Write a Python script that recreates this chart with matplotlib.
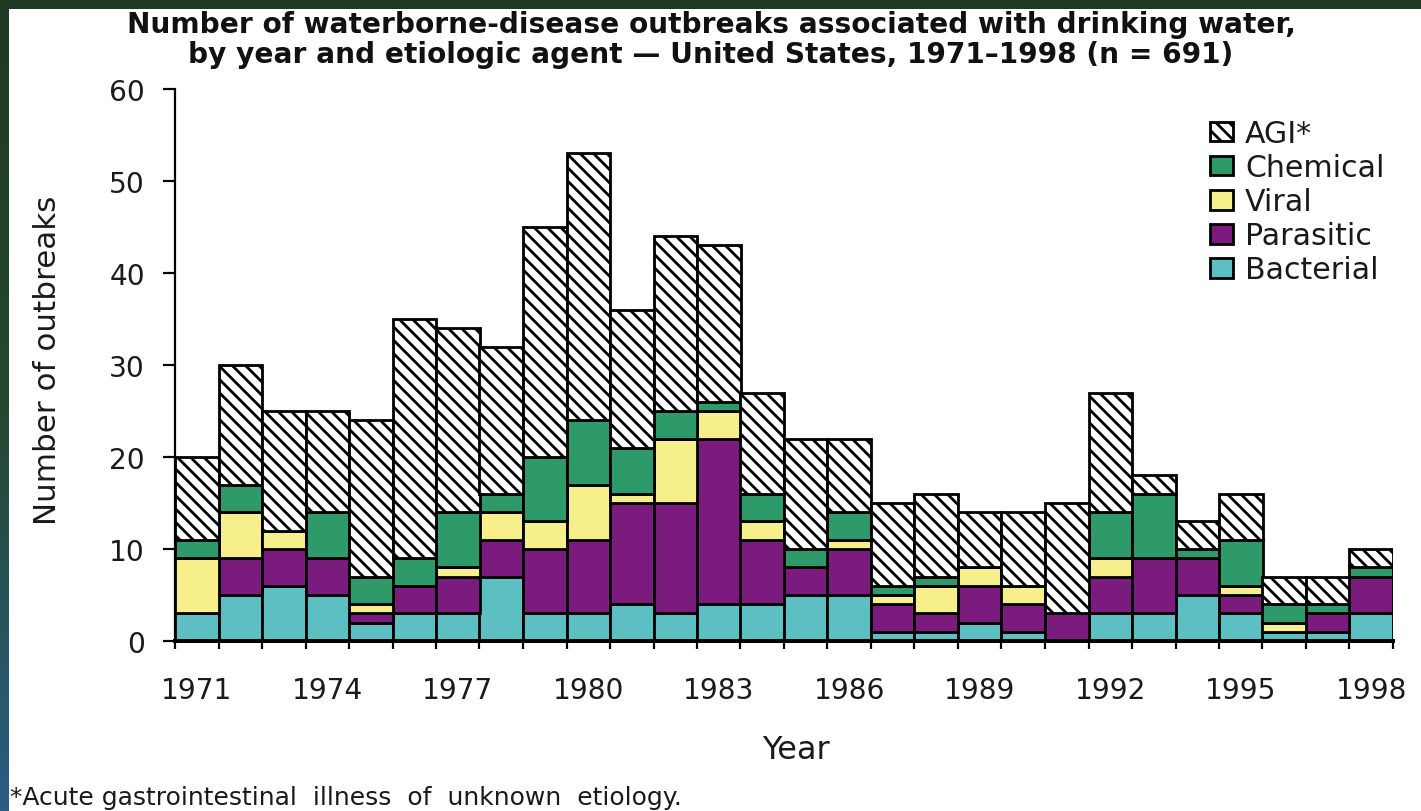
import numpy as np
import matplotlib
matplotlib.use('Agg')
import matplotlib.pyplot as plt
from matplotlib.patches import Rectangle, Patch
from matplotlib.colors import LinearSegmentedColormap

DPI = 200
W, H = 1421, 812


def pt(px):
    # pixel size -> points at this dpi
    return px * 72.0 / DPI


years = list(range(1971, 1999))
bacterial = [3, 5, 6, 5, 2, 3, 3, 7, 3, 3, 4, 3, 4, 4, 5, 5, 1, 1, 2, 1, 0, 3, 3, 5, 3, 1, 1, 3]
parasitic = [0, 4, 4, 4, 1, 3, 4, 4, 7, 8, 11, 12, 18, 7, 3, 5, 3, 2, 4, 3, 3, 4, 6, 4, 2, 0, 2, 4]
viral = [6, 5, 2, 0, 1, 0, 1, 3, 3, 6, 1, 7, 3, 2, 0, 1, 1, 3, 2, 2, 0, 2, 0, 0, 1, 1, 0, 0]
chemical = [2, 3, 0, 5, 3, 3, 6, 2, 7, 7, 5, 3, 1, 3, 2, 3, 1, 1, 0, 0, 0, 5, 7, 1, 5, 2, 1, 1]
agi = [9, 13, 13, 11, 17, 26, 20, 16, 25, 29, 15, 19, 17, 11, 12, 8, 9, 9, 6, 8, 12, 13, 2, 3, 5, 3, 3, 2]

labels = ['Bacterial', 'Parasitic', 'Viral', 'Chemical', 'AGI*']
colors = ['#5cc0c3', '#7b1b7e', '#f6ef8c', '#2e9a6a', 'white']
series = [bacterial, parasitic, viral, chemical, agi]
HATCH = '\\\\\\\\\\'
tick_years = [1971, 1974, 1977, 1980, 1983, 1986, 1989, 1992, 1995, 1998]
TXT = '#1a1a1a'

plt.rcParams['hatch.linewidth'] = pt(2.8)
plt.rcParams['hatch.color'] = 'black'

fig = plt.figure(figsize=(W / DPI, H / DPI), dpi=DPI)

# dark photo-like border and white panel
bg = fig.add_axes([0, 0, 1, 1], zorder=-5)
bg.axis('off')
cm = LinearSegmentedColormap.from_list('bg', ['#1e3a22', '#24482e', '#2c5d85'])
bg.imshow(np.linspace(0, 1, 256)[:, None], aspect='auto', cmap=cm, extent=[0, 1, 0, 1])
bg.add_patch(Rectangle((9 / W, 0), 1, 1 - 10 / H, transform=bg.transAxes,
                       facecolor='white', edgecolor='none'))
bg.set_xlim(0, 1)
bg.set_ylim(0, 1)

ax = fig.add_axes([175 / W, 1 - 642 / H, (1393 - 175) / W, (642 - 90) / H])
ax.set_facecolor('none')

x = np.arange(len(years))
bottom = np.zeros(len(years))
for lab, col, vals in zip(labels, colors, series):
    vals = np.array(vals)
    ax.bar(x, vals, width=1.0, bottom=bottom, color=col, edgecolor='black',
           linewidth=pt(2.8), hatch=HATCH if lab.startswith('AGI') else None,
           label=lab, zorder=2)
    bottom += vals

ax.set_xlim(-0.5, len(years) - 0.5)
ax.set_ylim(0, 60)
for s in ['top', 'right']:
    ax.spines[s].set_visible(False)
ax.spines['left'].set_linewidth(pt(2.2))
ax.spines['bottom'].set_linewidth(pt(4))
ax.spines['bottom'].set_zorder(3)

ax.set_yticks(range(0, 61, 10))
ax.tick_params(axis='y', length=pt(12), width=pt(2.2), pad=pt(18), labelsize=pt(28),
               labelcolor=TXT)
ax.set_xticks(np.arange(-0.5, len(years), 1.0))
ax.set_xticklabels([])
ax.tick_params(axis='x', which='major', length=pt(8), width=pt(2.2))
ax.set_xticks([years.index(y) for y in tick_years], minor=True)
ax.set_xticklabels([str(y) for y in tick_years], minor=True)
ax.tick_params(axis='x', which='minor', length=0, pad=pt(35), labelsize=pt(28),
               labelcolor=TXT)

# legend, top entry first
handles = [Patch(facecolor=c, edgecolor='black', linewidth=pt(2.8),
                 hatch=HATCH if lab.startswith('AGI') else None, label=lab)
           for lab, c in zip(labels, colors)][::-1]
fig.legend(handles=handles, loc='upper left', bbox_to_anchor=(1210 / W, 1 - 120 / H),
           frameon=False, fontsize=pt(30), handlelength=23 / 30, handleheight=19 / 30,
           handletextpad=0.4, labelspacing=0.17, borderpad=0, borderaxespad=0,
           labelcolor=TXT)

fig.text(711 / W, 1 - 33 / H,
         'Number of waterborne-disease outbreaks associated with drinking water,',
         ha='center', va='baseline', fontsize=pt(28), fontweight='bold', color='#111111')
fig.text(711 / W, 1 - 63 / H,
         'by year and etiologic agent \u2014 United States, 1971\u20131998 (n = 691)',
         ha='center', va='baseline', fontsize=pt(28), fontweight='bold', color='#111111')

fig.text(48 / W, 1 - 360 / H, 'Number of outbreaks', rotation=90, ha='center',
         va='center', fontsize=pt(31), color=TXT)
fig.text(796 / W, 1 - 751 / H, 'Year', ha='center', va='center', fontsize=pt(32),
         color=TXT)
fig.text(10 / W, 7 / H, '*Acute gastrointestinal  illness  of  unknown  etiology.',
         ha='left', va='baseline', fontsize=pt(25), color=TXT)

fig.savefig('out.png', dpi=DPI)
